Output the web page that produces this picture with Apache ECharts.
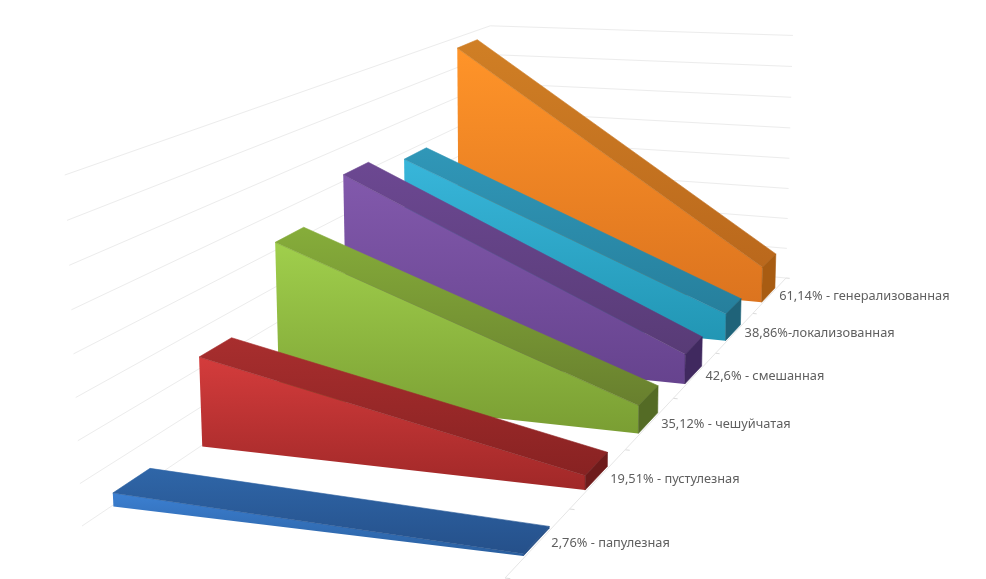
<!DOCTYPE html>
<html><head><meta charset="utf-8">
<style>html,body{margin:0;padding:0;background:#fff}#c{width:986px;height:579px}</style>
<script src="https://cdn.jsdelivr.net/npm/echarts@6/dist/echarts.min.js"></script>
</head><body><div id="c"></div>
<script>
// Back-most series first, so nearer wedges paint over farther ones
const labels = ['61,14% - генерализованная','38,86%-локализованная','42,6% - смешанная','35,12% - чешуйчатая','19,51% - пустулезная','2,76% - папулезная'];
const startValues = [61.14,38.86,42.6,35.12,19.51,2.76];
const endValues = [9.4,6.8,7.2,6.3,3.1,0.4];
const gridValues = [0,8.5,17,25.5,34,42.5,51,59.5,68];
const faceTop = ['#FF9429','#38B6DA','#8259AC','#A0CF4C','#D43C3C','#3C80D2'];
const faceBottom = ['#DC741F','#2296B4','#66438E','#7A9E33','#A02828','#2A5F9F'];
const lidTop = ['#D07F25','#3097B8','#6C4892','#86AD3A','#A82E2E','#2F66A8'];
const lidBottom = ['#BA681C','#267F9C','#583B76','#687F2E','#882222','#25508A'];
const sideColor = ['#A85C12','#1F6379','#40295F','#546B25','#6E1B1B','#244E86'];

// Camera: floor corners, vertical vanishing point, wall height
const FL=[82,526],FR=[505,578],BR=[786,278],BL=[491,251],VV=[523,9540],WALL_TOP_FL=175,ZMAX=68;
const XA=0.005,XB=0.995,SLOTS=6,THICK=0.4,WALL_CORNER=0.93,WALL_RIGHT=0.975;

const dx1=FR[0]-BR[0],dx2=BL[0]-BR[0],sx=FL[0]-FR[0]+BR[0]-BL[0];
const dy1=FR[1]-BR[1],dy2=BL[1]-BR[1],sy=FL[1]-FR[1]+BR[1]-BL[1];
const den=dx1*dy2-dx2*dy1;
const g=(sx*dy2-dx2*sy)/den,h=(dx1*sy-sx*dy1)/den;
const a=FR[0]-FL[0]+g*FR[0],b=BL[0]-FL[0]+h*BL[0],c=FL[0];
const d=FR[1]-FL[1]+g*FR[1],e=BL[1]-FL[1]+h*BL[1],f=FL[1];
const k=(FL[1]-WALL_TOP_FL)/(ZMAX*(WALL_TOP_FL-VV[1]));
function project(X,Y,Z){
  const w=g*X+h*Y+1+Z*k;
  return [(a*X+b*Y+c+Z*k*VV[0])/w,(d*X+e*Y+f+Z*k*VV[1])/w];
}
function vGrad(t,bm){return new echarts.graphic.LinearGradient(0,0,0,1,[{offset:0,color:t},{offset:1,color:bm}]);}

function renderGrid(params,api){
  const z=api.value(0);
  const line=(p,q)=>({type:'line',shape:{x1:p[0],y1:p[1],x2:q[0],y2:q[1]},style:{stroke:'#ececec',lineWidth:1}});
  const c0=api.coord(project(0,0,z)),c1=api.coord(project(0,1,z*WALL_CORNER)),c2=api.coord(project(1,1,z*WALL_RIGHT));
  return {type:'group',children:[line(c0,c1),line(c1,c2)]};
}
function renderAxis(params,api){
  const y=api.value(0);
  const p=api.coord(project(1,y,0)),q=api.coord(project(1.012,y,0));
  const ch=[{type:'line',shape:{x1:p[0],y1:p[1],x2:q[0],y2:q[1]},style:{stroke:'#dcdcdc',lineWidth:1}}];
  if(y<1){const n=api.coord(project(1,y+1/SLOTS,0));ch.push({type:'line',shape:{x1:p[0],y1:p[1],x2:n[0],y2:n[1]},style:{stroke:'#e6e6e6',lineWidth:1}});}
  return {type:'group',children:ch};
}
function renderWedge(params,api){
  const i=api.value(0),v0=api.value(1),v1=api.value(2);
  const slot=SLOTS-1-i;
  const y0=(slot+(1-THICK)/2)/SLOTS,y1=(slot+(1+THICK)/2)/SLOTS;
  const P=(X,Y,Z)=>api.coord(project(X,Y,Z));
  const ftl=P(XA,y0,v0),ftr=P(XB,y0,v1),fbr=P(XB,y0,0),fbl=P(XA,y0,0);
  const btl=P(XA,y1,v0),btr=P(XB,y1,v1),bbr=P(XB,y1,0);
  const lp=P(1.03,(y0+y1)/2,0);
  const lid=vGrad(lidTop[i],lidBottom[i]);
  return {type:'group',children:[
    {type:'polygon',shape:{points:[ftl,ftr,fbr,fbl]},style:{fill:vGrad(faceTop[i],faceBottom[i])}},
    {type:'polygon',shape:{points:[btl,btr,ftr,ftl]},style:{fill:lid,stroke:lid,lineWidth:0.6}},
    {type:'polygon',shape:{points:[ftr,btr,bbr,fbr]},style:{fill:sideColor[i],stroke:sideColor[i],lineWidth:0.6}},
    {type:'text',x:lp[0],y:lp[1],style:{text:labels[i],fill:'#5f5f5f',font:'12.8px "Noto Sans", sans-serif',textAlign:'left',textVerticalAlign:'middle'}}
  ]};
}
const chart=echarts.init(document.getElementById('c'),null,{renderer:'canvas'});
chart.setOption({
  animation:false,
  backgroundColor:'#fff',
  grid:{left:0,right:0,top:0,bottom:0},
  xAxis:{type:'value',min:0,max:986,show:false},
  yAxis:{type:'value',min:0,max:579,inverse:true,show:false},
  series:[
    {type:'custom',clip:false,silent:true,renderItem:renderGrid,data:gridValues.map(v=>[v])},
    {type:'custom',clip:false,silent:true,renderItem:renderAxis,data:[0,1,2,3,4,5,6].map(n=>[n/SLOTS])},
    {type:'custom',clip:false,silent:true,renderItem:renderWedge,data:labels.map((l,i)=>[i,startValues[i],endValues[i]])}
  ]
});
</script></body></html>
